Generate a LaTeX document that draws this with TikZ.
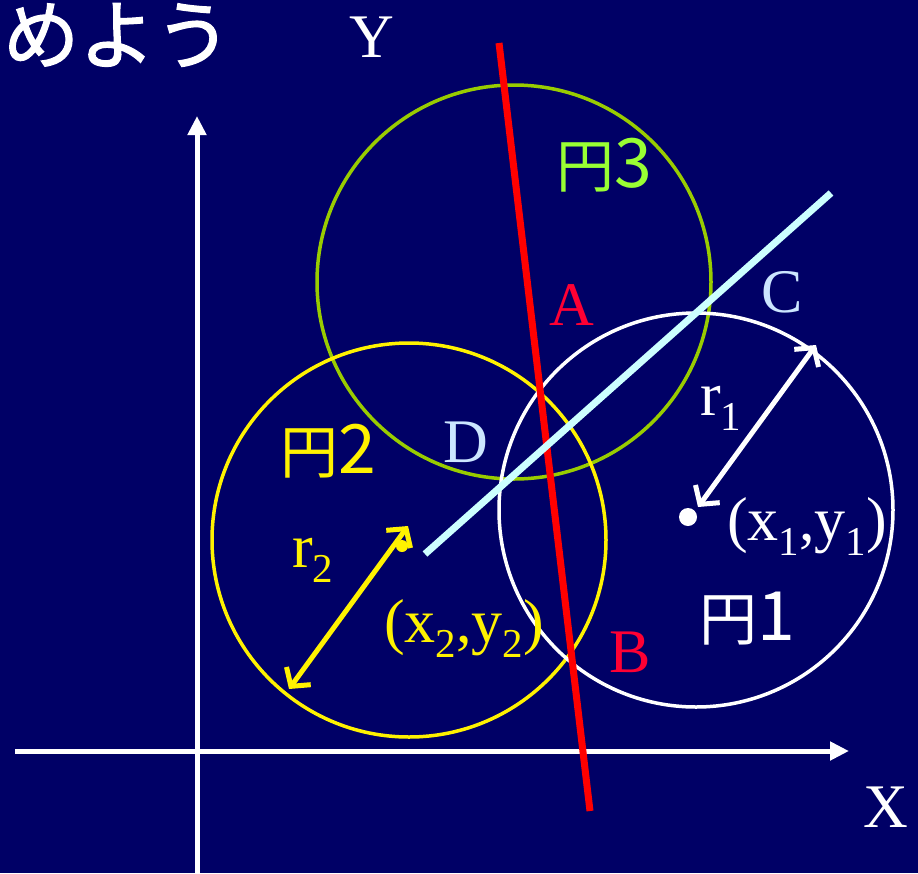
\documentclass[tikz,border=0pt]{standalone}
\usepackage{fontspec}
\setmainfont{Liberation Serif}
\newfontfamily\jpfont{Noto Sans CJK JP}
\newfontfamily\jptitle[FakeBold=1.6]{Noto Sans CJK JP}
\usetikzlibrary{arrows.meta}
\definecolor{bgnavy}{RGB}{0,0,102}
\definecolor{olivegreen}{RGB}{153,204,0}
\definecolor{limegreen}{RGB}{153,255,51}
\definecolor{ptred}{RGB}{255,0,51}
\definecolor{lightcyan}{RGB}{204,255,255}
\definecolor{paleblue}{RGB}{204,230,255}
\newcommand\sbs[1]{\raisebox{-15pt}{\fontsize{41}{41}\selectfont #1}}
\newcommand\enlbl[1]{\fontsize{58}{58}\selectfont 円\fontsize{68}{68}\selectfont #1}
\begin{document}
\begin{tikzpicture}[x=1pt,y=-1pt,
  lbl/.style={inner sep=0pt, font=\fontsize{62}{62}\selectfont},
  jlbl/.style={inner sep=0pt, font=\jpfont},
  circ/.style={circle, draw, line width=3.5pt, minimum size=394pt, inner sep=0pt},
  axis/.style={white, line width=5pt, -{Triangle[length=19pt,width=18pt]}},
  radarrow/.style={line width=5pt, {Straight Barb[length=13pt,width=30pt]}-{Straight Barb[length=13pt,width=30pt]}},
  dotnode/.style={circle, inner sep=0pt}]
\fill[bgnavy] (0,0) rectangle (918,873);
\useasboundingbox (0,0) rectangle (918,873);
\clip (0,0) rectangle (918,873);

% title fragment
\node[inner sep=0pt, anchor=base west, white, font=\jptitle\fontsize{76}{76}\selectfont] (title) at (3,63) {めよう};

% axes
\coordinate (yb) at (197,873);
\coordinate (yt) at (197,116);
\coordinate (xl) at (15,751);
\coordinate (xr) at (849,751);
\draw[axis] (yb) -- (yt);
\draw[axis] (xl) -- (xr);
\node[lbl, white, anchor=base] (ylab) at (372,57) {Y};
\node[lbl, white, anchor=base] (xlab) at (886,827) {X};

% circles
\node[circ, draw=olivegreen] (c3) at (514,282) {};
\node[circ, draw=yellow] (c2) at (409,540) {};
\node[circ, draw=white] (c1) at (696,510) {};

% lines
\coordinate (ra) at (499,43);
\coordinate (rb) at (590,811);
\draw[red, line width=7pt] (ra) -- (rb);
\coordinate (la) at (425,554);
\coordinate (lb) at (831,193);
\draw[lightcyan, line width=7pt] (la) -- (lb);

% centres
\node[dotnode, fill=white, minimum size=18pt] (p1) at (688,517) {};
\node[dotnode, fill=yellow, minimum size=12pt] (p2) at (402,546) {};

% radius arrows
\coordinate (r1a) at (816,345);
\coordinate (r1b) at (698,507);
\draw[radarrow, white] (r1a) -- (r1b);
\coordinate (r2a) at (408,526);
\coordinate (r2b) at (289,689);
\draw[radarrow, yellow] (r2a) -- (r2b);

% labels
\node[jlbl, limegreen] (t3) at (604,165) {\enlbl{3}};
\node[jlbl, yellow] (t2) at (328,451) {\enlbl{2}};
\node[jlbl, white] (t1) at (747,619) {\enlbl{1}};
\node[lbl, ptred, anchor=base] (lA) at (572,325) {A};
\node[lbl, ptred, anchor=base] (lB) at (630,672) {B};
\node[lbl, paleblue, anchor=base] (lC) at (782,312) {C};
\node[lbl, paleblue, anchor=base] (lD) at (466,462) {D};
\node[lbl, white, anchor=base west] (rr1) at (700,415) {r\sbs{1}};
\node[lbl, white, anchor=base west] (xy1) at (727,540) {(x\sbs{1},y\sbs{1})};
\node[lbl, yellow, anchor=base west] (rr2) at (292,567) {r\sbs{2}};
\node[lbl, yellow, anchor=base west] (xy2) at (384,642) {(x\sbs{2},y\sbs{2})};
\end{tikzpicture}
\end{document}
